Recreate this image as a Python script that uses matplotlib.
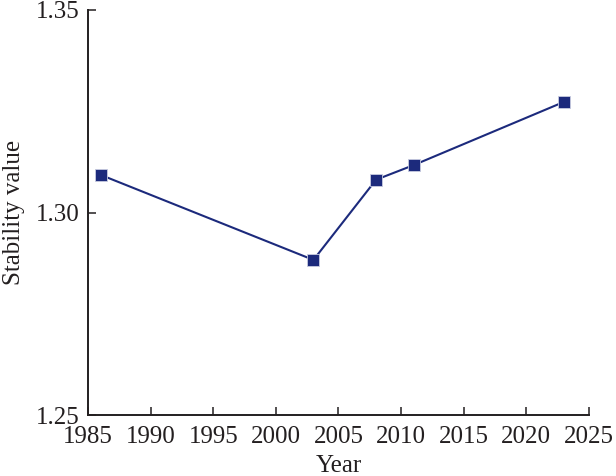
import matplotlib
matplotlib.use('Agg')
import matplotlib.pyplot as plt

# 稳定性值随年份变化
years = [1986, 2003, 2008, 2011, 2023]
stability = [1.3093, 1.2883, 1.3081, 1.3117, 1.3273]

x_ticks = [1985, 1990, 1995, 2000, 2005, 2010, 2015, 2020, 2025]
y_ticks = [1.25, 1.30, 1.35]

plt.rcParams.update({
    'font.family': ['Liberation Serif', 'DejaVu Serif'],
    'font.size': 18,
})

fig = plt.figure(figsize=(6.16, 4.76), dpi=100)
ax = fig.add_axes([0.143, 0.128, 0.813, 0.851])

ax.plot(years, stability, '-', color='#1c2a7c', linewidth=1.5,
        marker='s', markersize=8.5, markerfacecolor='#1c2a7c',
        markeredgecolor='#c8cce0', markeredgewidth=0.6)

ax.set_xlim(1985, 2025)
ax.set_ylim(1.25, 1.35)
ax.set_xticks(x_ticks)
ax.set_yticks(y_ticks)
ax.set_yticklabels(['%.2f' % v for v in y_ticks])
ax.tick_params(direction='in', length=5.5, width=1.1, colors='#231f20',
               labelsize=18)
ax.tick_params(axis='x', pad=8)
ax.tick_params(axis='y', pad=6)
for side in ['top', 'right']:
    ax.spines[side].set_visible(False)
for side in ['left', 'bottom']:
    ax.spines[side].set_linewidth(1.4)
    ax.spines[side].set_color('#231f20')

ax.set_xlabel('Year', fontsize=18, color='#231f20', labelpad=5)
ax.set_ylabel('Stability value', fontsize=18, color='#231f20', labelpad=8)

fig.savefig('out.png', dpi=100)
plt.close()
